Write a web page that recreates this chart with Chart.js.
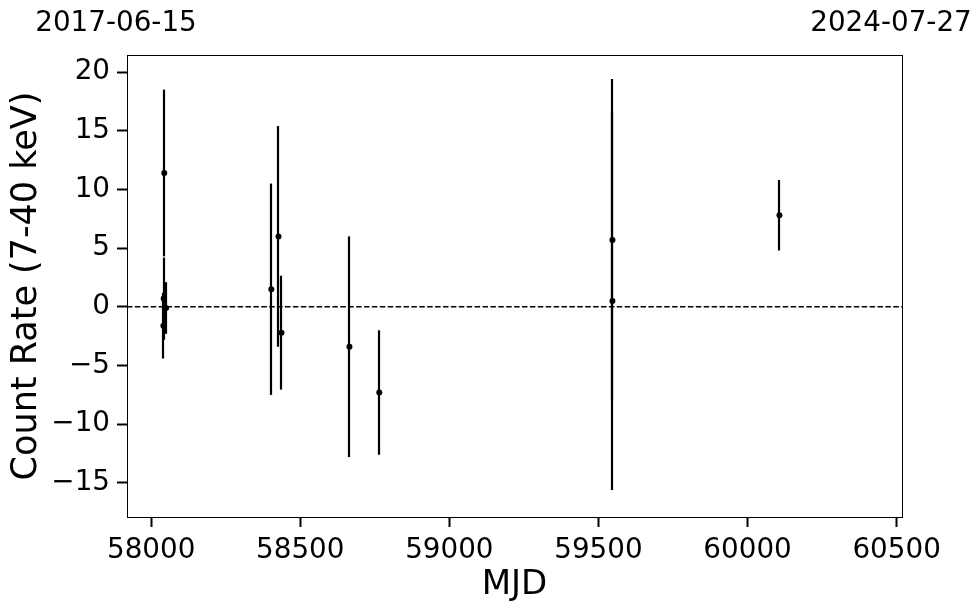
<!DOCTYPE html>
<html>
<head>
<meta charset="utf-8">
<script src="https://cdn.jsdelivr.net/npm/chart.js@4/dist/chart.umd.min.js"></script>
<style>
  body { margin: 0; background: #fff; }
  canvas { display: block; }
</style>
</head>
<body>
<canvas id="lc" width="980" height="613" style="width:980px;height:613px"></canvas>
<script>
// light curve values (MJD, count rate, 1-sigma error)
const mjd   = [58044, 58042, 58050, 58041, 58403, 58427, 58437, 58665, 58765, 59547, 59547, 60107];
const rate  = [11.4, 0.7, -0.1, -1.6, 1.5, 6.0, -2.2, -3.4, -7.3, 5.7, 0.5, 7.8];
const rateErr = [7.1, 3.5, 2.2, 2.8, 9.0, 9.4, 4.85, 9.4, 5.3, 13.7, 16.1, 3.0];

const xTicks = [58000, 58500, 59000, 59500, 60000, 60500];
const yTicks = [-15, -10, -5, 0, 5, 10, 15, 20];
const xRange = [57919, 60518];
const yRange = [-17.9, 21.45];
const topDates = ['2017-06-15', '2024-07-27'];

const FONT = 'DejaVu Sans';

const points = mjd.map((m, i) => ({ x: m, y: rate[i] }));

// error bars, zero line, frame and date labels
const extras = {
    id: 'extras',
    beforeDatasetsDraw: function(chart) {
        const ctx = chart.ctx;
        const xs = chart.scales.x, ys = chart.scales.y;
        const area = chart.chartArea;
        ctx.save();
        ctx.beginPath();
        ctx.rect(area.left, area.top, area.right - area.left, area.bottom - area.top);
        ctx.clip();

        // dashed zero line
        const y0 = ys.getPixelForValue(0);
        ctx.strokeStyle = '#000';
        ctx.lineWidth = 1.5;
        ctx.setLineDash([5.5, 2.4]);
        ctx.beginPath();
        ctx.moveTo(area.left, y0);
        ctx.lineTo(area.right, y0);
        ctx.stroke();
        ctx.setLineDash([]);

        ctx.lineWidth = 2.2;
        for (let i = 0; i < mjd.length; i++) {
            const px = Math.round(xs.getPixelForValue(mjd[i]));
            ctx.beginPath();
            ctx.moveTo(px, ys.getPixelForValue(rate[i] + rateErr[i]));
            ctx.lineTo(px, ys.getPixelForValue(rate[i] - rateErr[i]));
            ctx.stroke();
        }
        ctx.restore();
    },
    afterDraw: function(chart) {
        const ctx = chart.ctx;
        const xs = chart.scales.x;
        const area = chart.chartArea;
        ctx.save();
        ctx.strokeStyle = '#000';
        ctx.lineWidth = 1;
        ctx.strokeRect(Math.round(area.left) + 0.5, Math.round(area.top) + 0.5,
            Math.round(area.right - area.left), Math.round(area.bottom - area.top));

        ctx.fillStyle = '#000';
        ctx.font = '27.8px "' + FONT + '"';
        ctx.textAlign = 'center';
        ctx.textBaseline = 'alphabetic';
        xRange.forEach((v, i) => {
            ctx.fillText(topDates[i], xs.getPixelForValue(v) - 11, area.top - 24);
        });
        ctx.restore();
    }
};

const minus = v => (v < 0 ? '\u2212' + Math.abs(v) : String(v));

new Chart(document.getElementById('lc'), {
    type: 'scatter',
    data: {
        datasets: [{
            data: points,
            pointRadius: 3,
            pointHoverRadius: 3,
            backgroundColor: '#000',
            borderColor: '#000',
            borderWidth: 0
        }]
    },
    options: {
        responsive: false,
        animation: false,
        devicePixelRatio: 1,
        layout: { padding: { top: 55, right: 78, left: 0, bottom: 0 } },
        plugins: {
            legend: { display: false },
            tooltip: { enabled: false }
        },
        scales: {
            x: {
                type: 'linear',
                min: xRange[0],
                max: xRange[1],
                afterBuildTicks: s => { s.ticks = xTicks.map(v => ({ value: v })); },
                afterFit: s => { s.height = 96; },
                grid: { drawOnChartArea: false, tickLength: 10, tickWidth: 2, tickColor: '#000', color: '#000' },
                border: { display: false },
                ticks: {
                    color: '#000',
                    font: { family: FONT, size: 27.8 },
                    padding: 7,
                    maxRotation: 0,
                    callback: v => String(v)
                },
                title: {
                    display: true,
                    text: 'MJD',
                    color: '#000',
                    font: { family: FONT, size: 34 },
                    padding: { top: 0, bottom: 7 }
                }
            },
            y: {
                type: 'linear',
                min: yRange[0],
                max: yRange[1],
                afterBuildTicks: s => { s.ticks = yTicks.map(v => ({ value: v })); },
                afterFit: s => { s.width = 127; },
                grid: { drawOnChartArea: false, tickLength: 10, tickWidth: 2, tickColor: '#000', color: '#000' },
                border: { display: false },
                ticks: {
                    color: '#000',
                    font: { family: FONT, size: 27.8 },
                    padding: 7,
                    callback: v => minus(v)
                },
                title: {
                    display: true,
                    text: 'Count Rate (7-40 keV)',
                    color: '#000',
                    font: { family: FONT, size: 35 },
                    padding: { top: 6, bottom: 0 }
                }
            }
        }
    },
    plugins: [extras]
});
</script>
</body>
</html>
